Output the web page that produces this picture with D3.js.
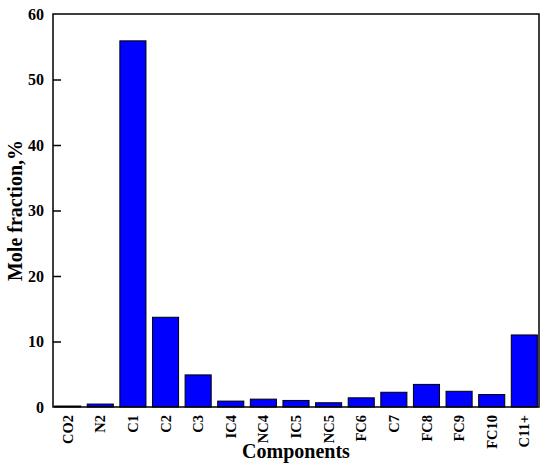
<!DOCTYPE html>
<html>
<head>
<meta charset="utf-8">
<script src="https://cdn.jsdelivr.net/npm/d3@7"></script>
<style>
  body { margin: 0; background: #fff; }
  text { font-family: "Liberation Serif", "Times New Roman", serif; font-weight: bold; }
</style>
</head>
<body>
<div id="chart"></div>
<script>
var components = ["CO2", "N2", "C1", "C2", "C3", "IC4", "NC4", "IC5", "NC5", "FC6", "C7", "FC8", "FC9", "FC10", "C11+"];
var moleFraction = [0.15, 0.45, 55.9, 13.7, 4.9, 0.9, 1.2, 1.0, 0.65, 1.4, 2.25, 3.45, 2.4, 1.9, 11.0];
var yTicks = [0, 10, 20, 30, 40, 50, 60];

var width = 550, height = 466;
var margin = {left: 53, right: 11, top: 14, bottom: 59};

var svg = d3.select("#chart").append("svg")
    .attr("width", width)
    .attr("height", height);

var x = d3.scaleBand()
    .domain(components)
    .range([margin.left, width - margin.right])
    .paddingInner(0.2)
    .paddingOuter(0.05);

var y = d3.scaleLinear()
    .domain([0, 60])
    .range([height - margin.bottom, margin.top]);

// bars
svg.append("g").selectAll("rect")
    .data(components)
  .enter().append("rect")
    .attr("x", function(d) { return x(d); })
    .attr("y", function(d, i) { return y(moleFraction[i]); })
    .attr("width", x.bandwidth())
    .attr("height", function(d, i) { return y(0) - y(moleFraction[i]); })
    .attr("fill", "#0000ff")
    .attr("stroke", "#000")
    .attr("stroke-width", 1);

// frame
svg.append("rect")
    .attr("x", margin.left)
    .attr("y", margin.top)
    .attr("width", width - margin.left - margin.right)
    .attr("height", height - margin.top - margin.bottom)
    .attr("fill", "none")
    .attr("stroke", "#000")
    .attr("stroke-width", 1.5);

// y axis, ticks pointing inward
var yAxis = d3.axisLeft(y)
    .tickValues(yTicks)
    .tickSize(-8)
    .tickPadding(9)
    .tickFormat(d3.format("d"));

var gy = svg.append("g")
    .attr("transform", "translate(" + margin.left + ",0)")
    .call(yAxis);
gy.select(".domain").remove();
gy.selectAll(".tick line").attr("stroke-width", 1.5)
    .filter(function(d) { return d === 0 || d === 60; }).remove();
gy.selectAll(".tick text")
    .style("font-size", "16px")
    .style("font-family", "'Liberation Serif', serif")
    .style("font-weight", "bold")
    .attr("fill", "#000");

// x labels
svg.append("g").selectAll("text")
    .data(components)
  .enter().append("text")
    .attr("transform", function(d) {
      return "translate(" + (x(d) + x.bandwidth() / 2) + "," + (y(0) + 8) + ")rotate(-90)";
    })
    .attr("dy", "0.35em")
    .attr("text-anchor", "end")
    .style("font-size", "14.5px")
    .text(function(d) { return d; });

// axis titles
svg.append("text")
    .attr("x", (margin.left + width - margin.right) / 2)
    .attr("y", 458)
    .attr("text-anchor", "middle")
    .style("font-size", "20px")
    .text("Components");

svg.append("text")
    .attr("transform", "translate(22," + ((margin.top + height - margin.bottom) / 2) + ")rotate(-90)")
    .attr("text-anchor", "middle")
    .style("font-size", "20px")
    .text("Mole fraction,%");
</script>
</body>
</html>
